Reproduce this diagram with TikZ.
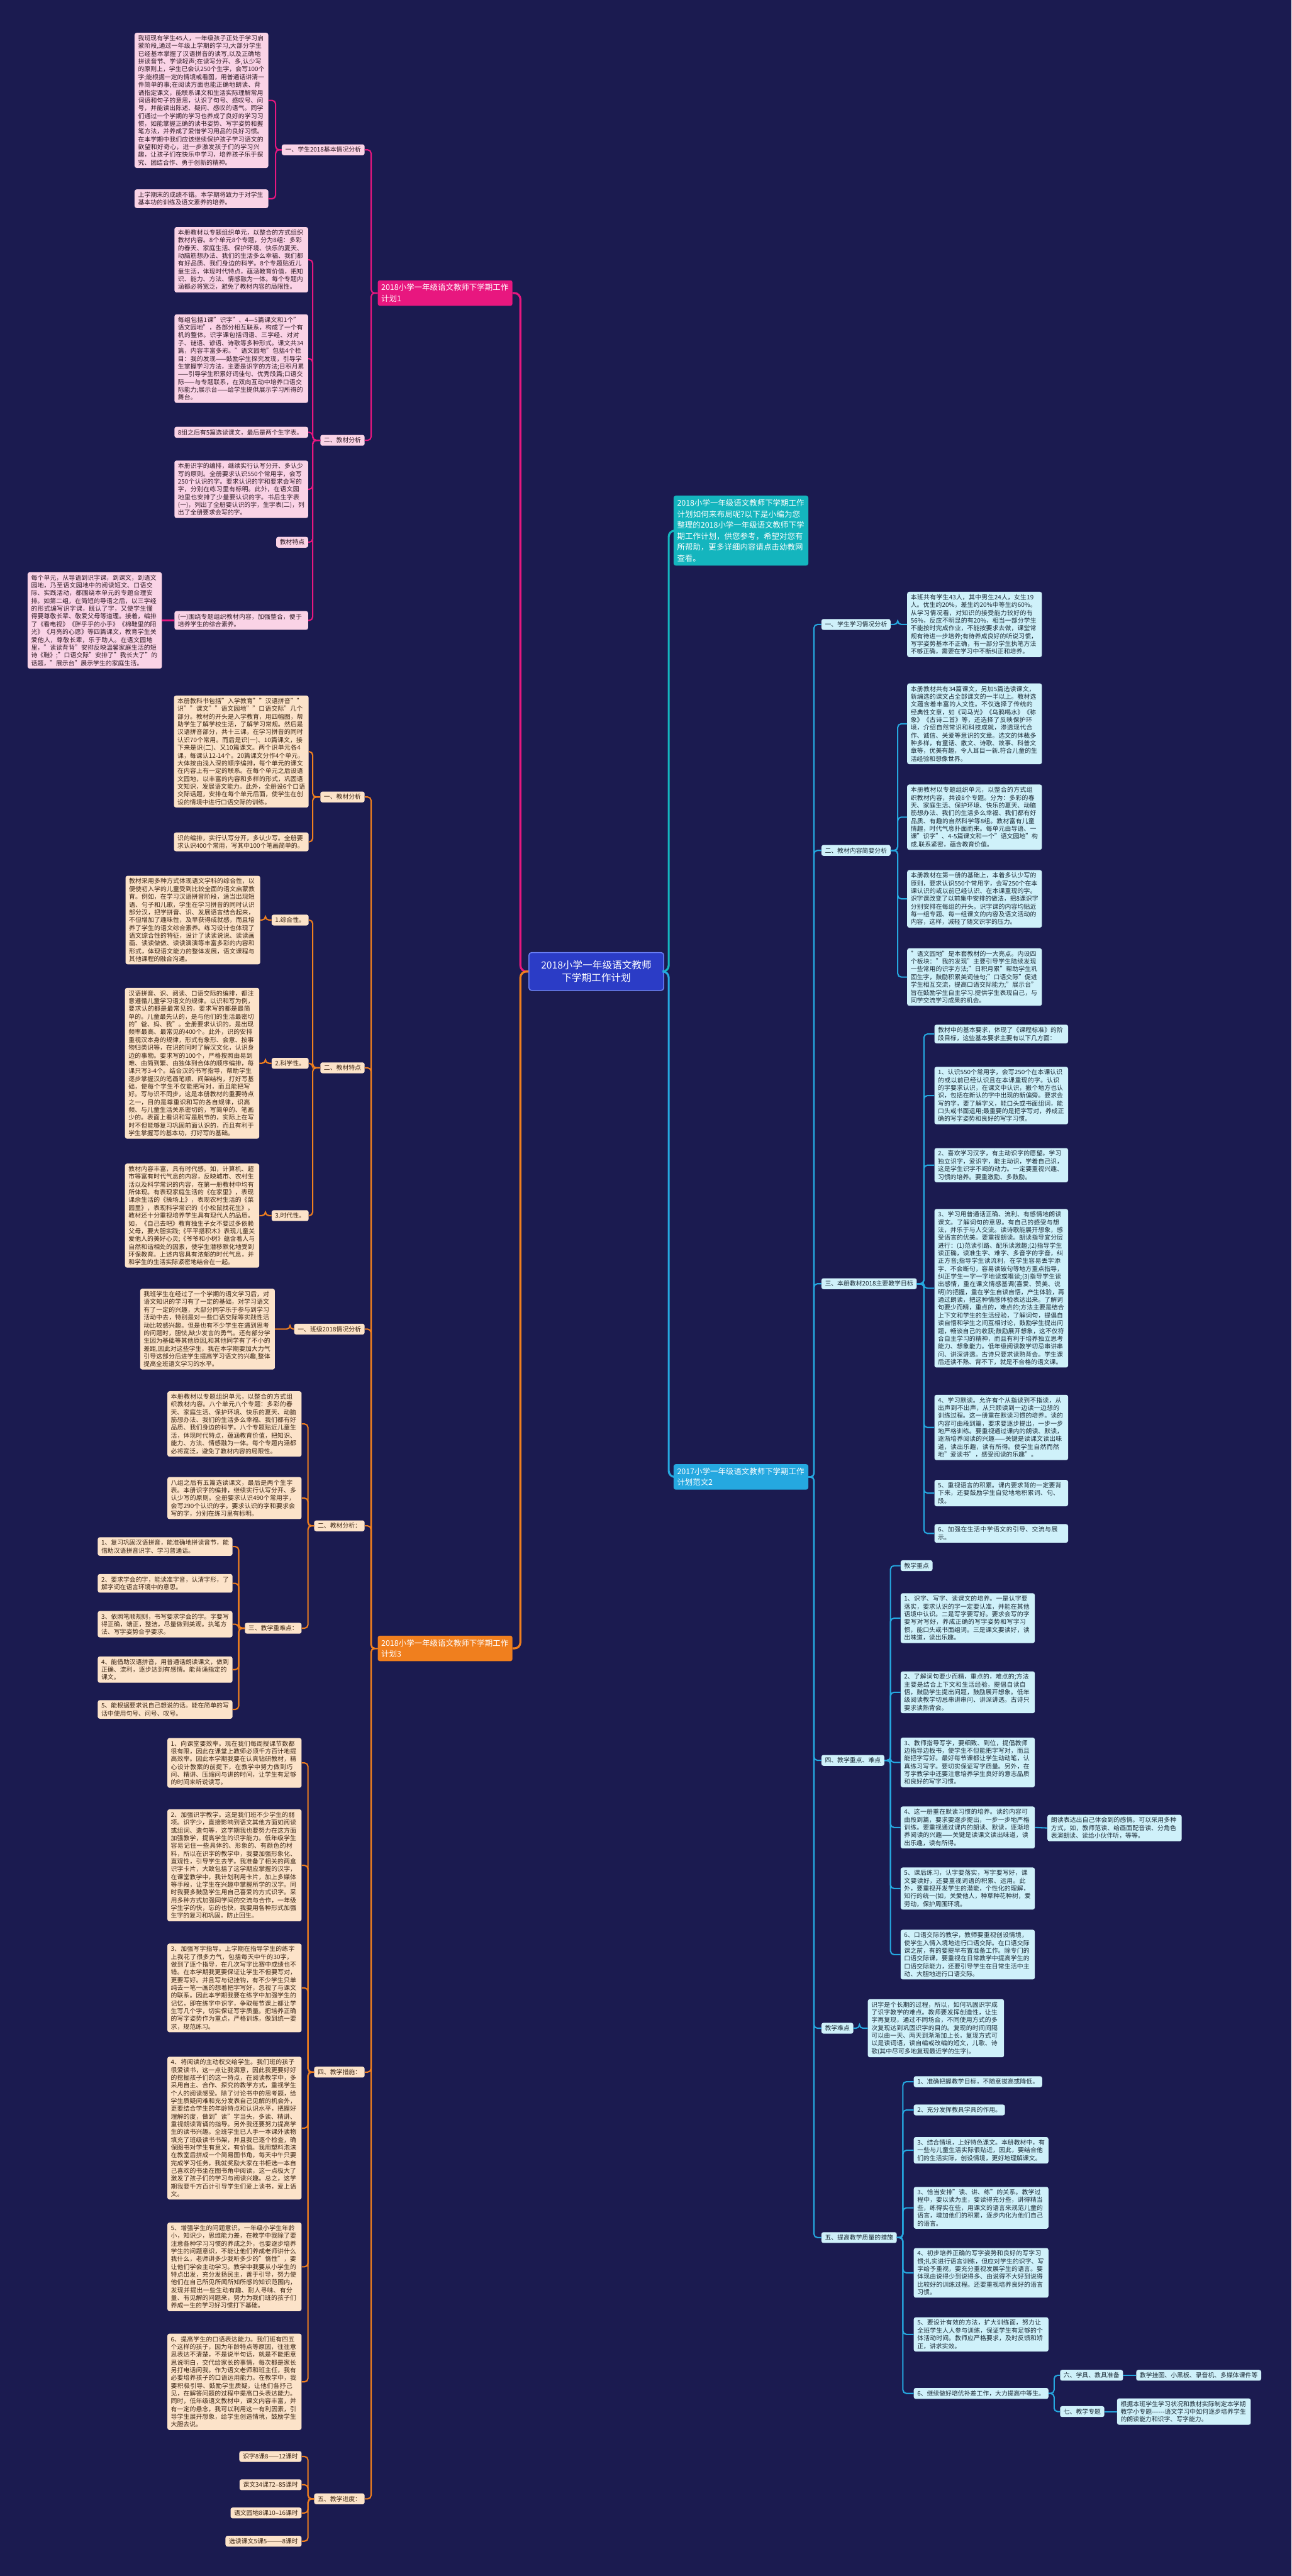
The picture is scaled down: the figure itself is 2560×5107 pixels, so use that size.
\documentclass[tikz,border=0pt]{standalone}
\usepackage{fontspec}
\setmainfont{Noto Sans CJK SC}
\XeTeXlinebreaklocale "zh"
\XeTeXlinebreakskip = 0pt plus 1pt
\definecolor{bg}{HTML}{1B1B50}
\definecolor{pinkline}{HTML}{E8177F}
\definecolor{pinkfill}{HTML}{FAD3E6}
\definecolor{pinktext}{HTML}{2E1A24}
\definecolor{orangeline}{HTML}{F07F1E}
\definecolor{orangefill}{HTML}{FCE3C9}
\definecolor{orangetext}{HTML}{3A2412}
\definecolor{cyanline}{HTML}{25A8E0}
\definecolor{cyanfill}{HTML}{CFF1FA}
\definecolor{cyantext}{HTML}{1A2A36}
\definecolor{tealline}{HTML}{14B5BE}
\definecolor{rootfill}{HTML}{2B3CC6}
\definecolor{rootdraw}{HTML}{6A80F5}
\newcommand\leafsz{\fontsize{12.3}{15.4}\selectfont}
\newcommand\mainsz{\fontsize{15.5}{22}\selectfont}
\newcommand\rootsz{\fontsize{19.5}{25}\selectfont}
\newcommand\Lc[4]{\draw[#1] (#2.west) -- ++(-#4,0) |- (#3.east);}
\newcommand\Rc[4]{\draw[#1] (#2.east) -- ++(#4,0) |- (#3.west);}
\tikzset{
  base/.style={rounded corners=4pt, inner xsep=7pt, inner ysep=5pt, align=left, font=\leafsz},
  pk/.style={base, fill=pinkfill, text=pinktext},
  og/.style={base, fill=orangefill, text=orangetext},
  cy/.style={base, fill=cyanfill, text=cyantext},
  tw/.style={text width=#1},
  mainnode/.style={rounded corners=4pt, inner xsep=7pt, inner ysep=7pt, align=left, font=\mainsz, text=white, text width=253pt},
  ln/.style={draw=#1, line width=2.6pt, rounded corners=7pt},
  mainln/.style={draw=#1, line width=4pt, rounded corners=12pt},
}
\begin{document}
\begin{tikzpicture}[x=1pt,y=-1pt]
\fill[bg] (0,0) rectangle (2560,5107);
\useasboundingbox (0,0) rectangle (2560,5107);

% root
\node[rounded corners=5pt, fill=rootfill, draw=rootdraw, line width=2pt, text=white, font=\rootsz, align=center, minimum width=267pt, minimum height=75pt] (root) at (1182,1926) {2018小学一年级语文教师\\下学期工作计划};

% main nodes
\node[mainnode, fill=pinkline, anchor=east] (L1) at (1016,581) {2018小学一年级语文教师下学期工作计划1};
\node[mainnode, fill=orangeline, anchor=east] (L3) at (1016,3268) {2018小学一年级语文教师下学期工作计划3};
\node[mainnode, fill=tealline, anchor=west] (R1) at (1335,1052) {2018小学一年级语文教师下学期工作计划如何来布局呢?以下是小编为您整理的2018小学一年级语文教师下学期工作计划，供您参考，希望对您有所帮助，更多详细内容请点击幼教网查看。};
\node[mainnode, fill=cyanline, anchor=west] (R2) at (1335,2928) {2017小学一年级语文教师下学期工作计划范文2};

\draw[mainln=pinkline] (root.west) -- ++(-16,0) |- (L1.east);
\draw[mainln=orangeline] (root.west) -- ++(-16,0) |- (L3.east);
\draw[mainln=tealline] (root.east) -- ++(9,0) |- (R1.west);
\draw[mainln=cyanline] (root.east) -- ++(9,0) |- (R2.west);

% ===== Left 1 =====
\node[pk, anchor=east] (L1a) at (723,297) {一、学生2018基本情况分析};
\node[pk, tw=251pt, anchor=east] (A) at (532,199) {我班现有学生45人，一年级孩子正处于学习启蒙阶段,通过一年级上学期的学习,大部分学生已经基本掌握了汉语拼音的读写,以及正确地拼读音节、学读轻声;在读写分开、多,认少写的原则上，学生已会认250个生字，会写100个字;能根据一定的情境或看图，用普通话讲清一件简单的事;在阅读方面也能正确地朗读、背诵指定课文，能联系课文和生活实际理解常用词语和句子的意思，认识了句号、感叹号、问号，并能读出陈述、疑问、感叹的语气。同学们通过一个学期的学习也养成了良好的学习习惯，如能掌握正确的读书姿势、写字姿势和握笔方法，并养成了爱惜学习用品的良好习惯。在本学期中我们应该继续保护孩子学习语文的欲望和好奇心，进一步激发孩子们的学习兴趣，让孩子们在快乐中学习，培养孩子乐于探究、团结合作、勇于创新的精神。};
\node[pk, tw=251pt, anchor=east] (B) at (532,394) {上学期末的成绩不错。本学期将致力于对学生基本功的训练及语文素养的培养。};
\node[pk, anchor=east] (L1b) at (723,873) {二、教材分析};
\node[pk, tw=251pt, anchor=east] (C1) at (611,515) {本册教材以专题组织单元，以整合的方式组织教材内容。8个单元8个专题，分为8组：多彩的春天、家庭生活、保护环境、快乐的夏天、动脑筋想办法、我们的生活多么幸福、我们都有好品质、我们身边的科学。8个专题贴近儿童生活，体现时代特点，蕴涵教育价值，把知识、能力、方法、情感融为一体。每个专题内涵都必将宽泛，避免了教材内容的局限性。};
\node[pk, tw=251pt, anchor=east] (C2) at (611,711) {每组包括1课"识字"、4—5篇课文和1个"语文园地"，各部分相互联系，构成了一个有机的整体。识字课包括词语、三字经、对对子、谜语、谚语、诗歌等多种形式。课文共34篇，内容丰富多彩。"语文园地"包括4个栏目：我的发现——鼓励学生探究发现，引导学生掌握学习方法，主要是识字的方法;日积月累——引导学生积累好词佳句、优秀段篇;口语交际——与专题联系，在双向互动中培养口语交际能力;展示台——给学生提供展示学习所得的舞台。};
\node[pk, tw=251pt, anchor=east] (C3) at (611,857) {8组之后有5篇选读课文，最后是两个生字表。};
\node[pk, tw=251pt, anchor=east] (C4) at (611,970) {本册识字的编排，继续实行认写分开、多认少写的原则。全册要求认识550个常用字，会写250个认识的字。要求认识的字和要求会写的字，分别在练习里有标明。此外，在语文园地里也安排了少量要认识的字。书后生字表(一)，列出了全册要认识的字，生字表(二)，列出了全册要求会写的字。};
\node[pk, anchor=east] (C5) at (611,1075) {教材特点};
\node[pk, tw=251pt, anchor=east] (F) at (611,1230) {(一)围绕专题组织教材内容，加强整合，便于培养学生的综合素养。};
\node[pk, tw=252pt, anchor=east] (G) at (321,1230) {每个单元，从导语到识字课，到课文，到语文园地，乃至语文园地中的阅读短文、口语交际、实践活动，都围绕本单元的专题合理安排。如第二组，在简短的导语之后，以三字经的形式编写识字课，既认了字，又使学生懂得要尊敬长辈、敬爱父母等道理。接着，编排了《看电视》《胖乎乎的小手》《棉鞋里的阳光》《月亮的心愿》等四篇课文，教育学生关爱他人，尊敬长辈，乐于助人。在语文园地里，"读读背背"安排反映温馨家庭生活的短诗《鞋》;"口语交际"安排了"我长大了"的话题，"展示台"展示学生的家庭生活。};

\Lc{ln=pinkline}{L1}{L1a}{13}
\Lc{ln=pinkline}{L1}{L1b}{13}
\Lc{ln=pinkline}{L1a}{A}{12}
\Lc{ln=pinkline}{L1a}{B}{12}
\foreach \c in {C1,C2,C3,C4,C5,F} {\Lc{ln=pinkline}{L1b}{\c}{15}}
\draw[ln=pinkline] (F.west) -- (G.east);

% ===== Left 3 =====
\node[og, anchor=east] (T1) at (723,1580) {一、教材分析};
\node[og, tw=253pt, anchor=east] (H) at (612,1490) {本册教科书包括"入学教育""汉语拼音""识""课文""语文园地""口语交际"几个部分。教材的开头是入学教育，用四幅图，帮助学生了解学校生活，了解学习常规。然后是汉语拼音部分，共十三课，在学习拼音的同时认识70个常用。而后是识(一)、10篇课文，接下来是识(二)、又10篇课文。两个识单元各4课，每课认12-14个。20篇课文分作4个单元，大体按由浅入深的顺序编排，每个单元的课文在内容上有一定的联系。在每个单元之后设语文园地，以丰富的内容和多样的形式，巩固语文知识，发展语文能力。此外，全册设6个口语交际话题，安排在每个单元后面，使学生在创设的情境中进行口语交际的训练。};
\node[og, tw=253pt, anchor=east] (I) at (612,1669) {识的编排，实行认写分开，多认少写。全册要求认识400个常用，写其中100个笔画简单的。};
\node[og, anchor=east] (T2) at (723,2117) {二、教材特点};
\node[og, anchor=east] (K1) at (612,1824) {1.综合性。};
\node[og, anchor=east] (K2) at (612,2108) {2.科学性。};
\node[og, anchor=east] (K3) at (612,2410) {3.时代性。};
\node[og, tw=253pt, anchor=east] (J) at (516,1824) {教材采用多种方式体现语文学科的综合性，以便使初入学的儿童受到比较全面的语文启蒙教育。例如，在学习汉语拼音阶段，适当出现短语、句子和儿歌，学生在学习拼音的同时认识部分汉，把学拼音、识、发展语言结合起来，不但增加了趣味性，及早获得成就感，而且培养了学生的语文综合素养。练习设计也体现了语文综合性的特征，设计了读读说说、读读画画、读读做做、读读演演等丰富多彩的内容和形式，体现语文能力的整体发展，语文课程与其他课程的融合沟通。};
\node[og, tw=252pt, anchor=east] (K) at (514,2108) {汉语拼音、识、阅读、口语交际的编排，都注意遵循儿童学习语文的规律。以识和写为例，要求认的都是最常见的，要求写的都是最简单的。儿童最先认的，是与他们的生活最密切的"爸、妈、我"。全册要求认识的，是出现频率最高、最常见的400个。此外，识的安排重视汉本身的规律，形式有象形、会意、按事物归类识等，在识的同时了解汉文化，认识身边的事物。要求写的100个，严格按照由易到难、由简到繁、由独体到合体的顺序编排，每课只写3-4个。结合汉的书写指导，帮助学生逐步掌握汉的笔画笔顺、间架结构，打好写基础，使每个学生不仅能把写对，而且能把写好。写与识不同步，这是本册教材的重要特点之一，目的是尊重识和写的各自规律，识高频、与儿童生活关系密切的，写简单的、笔画少的。表面上看识和写是脱节的，实际上在写时不但能够复习巩固前面认识的，而且有利于学生掌握写的基本功，打好写的基础。};
\node[og, tw=252pt, anchor=east] (L) at (514,2410) {教材内容丰富，具有时代感。如，计算机、超市等富有时代气息的内容，反映城市、农村生活以及科学常识的内容，在第一册教材中均有所体现。有表现家庭生活的《在家里》，表现课余生活的《操场上》，表现农村生活的《菜园里》，表现科学常识的《小松鼠找花生》。教材还十分重视培养学生具有现代人的品质。如，《自己去吧》教育独生子女不要过多依赖父母，要大胆实践;《平平搭积木》表现儿童关爱他人的美好心灵;《爷爷和小树》蕴含着人与自然和谐相处的因素，使学生潜移默化地受到环保教育。上述内容具有浓郁的时代气息，并和学生的生活实际紧密地结合在一起。};
\node[og, anchor=east] (T3) at (723,2635) {一、班级2018情况分析};
\node[og, tw=253pt, anchor=east] (M) at (545,2635) {我班学生在经过了一个学期的语文学习后，对语文知识的学习有了一定的基础，对学习语文有了一定的兴趣，大部分同学乐于参与到学习活动中去，特别是对一些口语交际等实践性活动比较感兴趣。但是也有不少学生在遇到思考的问题时，胆怯,缺少发言的勇气。还有部分学生因为基础等其他原因,和其他同学有了不小的差距,因此对这些学生，我在本学期要加大力气引导这部分后进学生提高学习语文的兴趣,整体提高全班语文学习的水平。};
\node[og, anchor=east] (T4) at (723,3025) {二、教材分析：};
\node[og, tw=252pt, anchor=east] (N) at (598,2823) {本册教材以专题组织单元，以整合的方式组织教材内容。八个单元八个专题：多彩的春天、家庭生活、保护环境、快乐的夏天、动脑筋想办法、我们的生活多么幸福、我们都有好品质、我们身边的科学。八个专题贴近儿童生活，体现时代特点，蕴涵教育价值，把知识、能力、方法、情感融为一体。每个专题内涵都必将宽泛，避免了教材内容的局限性。};
\node[og, tw=252pt, anchor=east] (O) at (598,2970) {八组之后有五篇选读课文，最后是两个生字表。本册识字的编排，继续实行认写分开、多认少写的原则。全册要求认识490个常用字，会写290个认识的字。要求认识的字和要求会写的字，分别在练习里有标明。};
\node[og, anchor=east] (T5) at (598,3228) {三、教学重难点：};
\node[og, tw=253pt, anchor=east] (P1) at (461,3066) {1、复习巩固汉语拼音，能准确地拼读音节，能借助汉语拼音识字、学习普通话。};
\node[og, tw=253pt, anchor=east] (P2) at (461,3139) {2、要求学会的字，能读准字音，认清字形，了解字词在语言环境中的意思。};
\node[og, tw=253pt, anchor=east] (P3) at (461,3220) {3、依照笔顺规则，书写要求学会的字。字要写得正确，端正，整洁，尽量做到美观。执笔方法、写字姿势合乎要求。};
\node[og, tw=253pt, anchor=east] (P4) at (461,3310) {4、能借助汉语拼音，用普通话朗读课文，做到正确、流利，逐步达到有感情。能背诵指定的课文。};
\node[og, tw=253pt, anchor=east] (P5) at (461,3389) {5、能根据要求说自己想说的话。能在简单的写话中使用句号、问号、叹号。};
\node[og, anchor=east] (T6) at (723,4108) {四、教学措施：};
\node[og, tw=252pt, anchor=east] (Q1) at (598,3495) {1、向课堂要效率。现在我们每周授课节数都很有限，因此在课堂上教师必须千方百计地提高效率。因此本学期我要在认真钻研教材，精心设计教案的前提下，在教学中努力做到巧问、精讲、压缩问与讲的时间，让学生有足够的时间来听说读写。};
\node[og, tw=252pt, anchor=east] (Q2) at (598,3698) {2、加强识字教学。这是我们班不少学生的弱项。识字少，直接影响到语文其他方面如阅读或组词、造句等，这学期我也要努力在这方面加强教学，提高学生的识字能力。低年级学生容易记住一些具体的、形象的、有颜色的材料，所以在识字的教学中，我要加强形象化、直观性，引导学生去学。我准备了相关的两盒识字卡片，大致包括了这学期应掌握的汉字，在课堂教学中，我计划利用卡片，加上多媒体等手段，让学生在兴趣中掌握所学的汉字。同时我要多鼓励学生用自己喜爱的方式识字。采用多种方式加强同学间的交流与合作，一年级学生学的快，忘的也快，我要用各种形式加强生字的复习和巩固，防止回生。};
\node[og, tw=252pt, anchor=east] (Q3) at (598,3941) {3、加强写字指导。上学期在指导学生的练字上我花了很多力气，包括每天中午的30字，做到了逐个指导，在几次写字比赛中成绩也不错。在本学期我更要保证让学生不但要写对，更要写好。并且写与记挂钩，有不少学生只单纯去一笔一画的想着把字写好，忽视了与课文的联系。因此本学期我要在练字中加强学生的记忆，即在练字中识字，争取每节课上都让学生写几个字，切实保证写字质量。把培养正确的写字姿势作为重点，严格训练，做到统一要求，规范练习。};
\node[og, tw=252pt, anchor=east] (Q4) at (598,4219) {4、将阅读的主动权交给学生。我们班的孩子很爱读书，这一点让我满意，因此我更要好好的挖掘孩子们的这一特点，在阅读教学中，多采用自主、合作、探究的教学方式，重视学生个人的阅读感受。除了讨论书中的思考题，给学生质疑问难和充分发表自己见解的机会外，更要结合学生的年龄特点和认识水平，把握好理解的度，做到"读"字当头，多读、精讲、重视朗读背诵的指导。另外我还要努力提高学生的读书兴趣。全班学生已人手一本课外读物填充了班级读书书架，并且我已逐个检查，确保图书对学生有意义，有价值。我用塑料泡沫在教室后拼成一个简易图书角，每天中午只要完成学习任务，我就奖励大家在书柜选一本自己喜欢的书坐在图书角中阅读，这一点极大了激发了孩子们的学习与阅读兴趣。总之，这学期我要千方百计引导学生们爱上读书，爱上语文。};
\node[og, tw=252pt, anchor=east] (Q5) at (598,4494) {5、增强学生的问题意识。一年级小学生年龄小，知识少，思维能力差，在教学中我除了要注意各种学习习惯的养成之外，也要逐步培养学生的问题意识，不能让他们养成老师讲什么我什么，老师讲多少我听多少的"惰性"，要让他们学会主动学习。教学中我要从小学生的特点出发，充分发扬民主，善于引导，努力使他们在自己所见所闻所知所感的知识范围内，发现并提出一些生动有趣、耐人寻味、有分量、有见解的问题来，努力为我们班的孩子们养成一生的学习好习惯打下基础。};
\node[og, tw=252pt, anchor=east] (Q6) at (598,4722) {6、提高学生的口语表达能力。我们班有四五个这样的孩子，因为年龄特点等原因，往往意思表达不清楚，不是说半句话，就是不能把意思说明白，交代给家长的事情，每次都是家长另打电话问我。作为语文老师和班主任，我有必要培养孩子的口语运用能力。在教学中，我要积极引导、鼓励学生质疑，让他们各抒己见，在解答问题的过程中提高口头表达能力。同时，低年级语文教材中，课文内容丰富，并有一定的悬念，我可以利用这一有利因素，引导学生展开想象，给学生创造情境，鼓励学生大胆去说。};
\node[og, anchor=east] (T7) at (723,4954) {五、教学进度：};
\node[og, anchor=east] (V1) at (598,4870) {识字8课8——12课时};
\node[og, anchor=east] (V2) at (598,4926) {课文34课72–85课时};
\node[og, anchor=east] (V3) at (598,4982) {语文园地8课10–16课时};
\node[og, anchor=east] (V4) at (598,5038) {选读课文5课5———8课时};

\foreach \t in {T1,T2,T3,T4,T6,T7} {\Lc{ln=orangeline}{L3}{\t}{13}}
\Lc{ln=orangeline}{T1}{H}{15}
\Lc{ln=orangeline}{T1}{I}{15}
\foreach \k in {K1,K2,K3} {\Lc{ln=orangeline}{T2}{\k}{15}}
\Lc{ln=orangeline}{K1}{J}{12}
\Lc{ln=orangeline}{K2}{K}{12}
\Lc{ln=orangeline}{K3}{L}{12}
\Lc{ln=orangeline}{T3}{M}{8}
\foreach \k in {N,O,T5} {\Lc{ln=orangeline}{T4}{\k}{12}}
\foreach \k in {P1,P2,P3,P4,P5} {\Lc{ln=orangeline}{T5}{\k}{12}}
\foreach \k in {Q1,Q2,Q3,Q4,Q5,Q6} {\Lc{ln=orangeline}{T6}{\k}{12}}
\foreach \k in {V1,V2,V3,V4} {\Lc{ln=orangeline}{T7}{\k}{12}}

% ===== Right 2 =====
\node[cy, anchor=west] (S0) at (1628,1238) {一、学生学习情况分析};
\node[cy, tw=253pt, anchor=west] (S) at (1798,1238) {本班共有学生43人，其中男生24人，女生19人。优生约20\%，差生约20\%中等生约60\%。从学习情况看，对知识的接受能力较好的有56\%，反应不明显的有20\%，相当一部分学生不能按时完成作业，不能按要求去做，课堂常规有待进一步培养;有待养成良好的听说习惯，写字姿势基本不正确，有一部分学生执笔方法不够正确，需要在学习中不断纠正和培养。};
\node[cy, anchor=west] (U0) at (1628,1686) {二、教材内容简要分析};
\node[cy, tw=253pt, anchor=west] (U1) at (1798,1435) {本册教材共有34篇课文，另加5篇选读课文，新编选的课文占全部课文的一半以上。教材选文蕴含着丰富的人文性。不仅选择了传统的经典性文章，如《司马光》《乌鸦喝水》《称象》《古诗二首》等，还选择了反映保护环境，介绍自然常识和科技成就，渗透现代合作、诚信、关爱等意识的文章。选文的体裁多种多样，有童话、散文、诗歌、故事、科普文章等，优美有趣，令人耳目一新.符合儿童的生活经验和想像世界。};
\node[cy, tw=253pt, anchor=west] (U2) at (1798,1620) {本册教材以专题组织单元，以整合的方式组织教材内容，共设8个专题。分为：多彩的春天、家庭生活、保护环境、快乐的夏天、动脑筋想办法、我们的生活多么幸福、我们都有好品质、有趣的自然科学等8组。教材富有儿童情趣，时代气息扑面而来。每单元由导语、一课"识字"、4-5篇课文和一个"语文园地"构成.联系紧密，蕴含教育价值。};
\node[cy, tw=253pt, anchor=west] (U3) at (1798,1782) {本册教材在第一册的基础上，本着多认少写的原则，要求认识550个常用字，会写250个在本课认识的或以前已经认识、在本课重现的字。识字课改变了以前集中安排的做法，把8课识字分别安排在每组的开头。识字课的内容均贴近每一组专题、每一组课文的内容及语文活动的内容，这样，减轻了随文识字的压力。};
\node[cy, tw=253pt, anchor=west] (U4) at (1798,1937) {"语文园地"是本套教材的一大亮点。内设四个板块："我的发现"主要引导学生陆续发现一些常用的识字方法;"日积月累"帮助学生巩固生字，鼓励积累美词佳句;"口语交际"促进学生相互交流，提高口语交际能力;"展示台"旨在鼓励学生自主学习.提供学生表现自己，与同学交流学习成果的机会。};
\node[cy, anchor=west] (Y0) at (1628,2545) {三、本册教材2018主要教学目标};
\node[cy, tw=251pt, anchor=west] (X) at (1852,2050) {教材中的基本要求，体现了《课程标准》的阶段目标，这些基本要求主要有以下几方面：};
\node[cy, tw=251pt, anchor=west] (Y1) at (1852,2172) {1、认识550个常用字，会写250个在本课认识的或以前已经认识且在本课重现的字。认识的字要求认识，在课文中认识，搬个地方也认识，包括在新认的字中出现的新偏旁。要求会写的字，要了解字义，能口头或书面组词，能口头或书面运用;最重要的是把字写对，养成正确的写字姿势和良好的写字习惯。};
\node[cy, tw=251pt, anchor=west] (Y2) at (1852,2310) {2、喜欢学习汉字，有主动识字的愿望。学习独立识字，爱识字，能主动识，学着自己识，这是学生识字不竭的动力。一定要重视兴趣、习惯的培养。要重激励、多鼓励。};
\node[cy, tw=251pt, anchor=west] (Y3) at (1852,2554) {3、学习用普通话正确、流利、有感情地朗读课文。了解词句的意思。有自己的感受与想法，并乐于与人交流。读诗歌能展开想象，感受语言的优美。要重视朗读。朗读指导宜分层进行：(1)范读引路、配乐读激趣;(2)指导学生读正确，读准生字、难字、多音字的字音，纠正方音;指导学生读流利，在学生容易丢字添字、不会断句，容易读破句等地方重点指导，纠正学生一字一字地读或唱读;(3)指导学生读出感情，重在课文情感基调(喜爱、赞美、说明)的把握，重在学生自读自悟，产生体验，再通过朗读，把这种情感体验表达出来。了解词句要少而精，重点的，难点的;方法主要是结合上下文和学生的生活经验，了解词句，提倡自读自悟和学生之间互相讨论，鼓励学生提出问题，畅谈自己的收获;鼓励展开想象，这不仅符合自主学习的精神，而且有利于培养独立思考能力、想象能力。低年级阅读教学切忌串讲串问、讲深讲透。古诗只要求读熟背会。学生课后还读不熟、背不下，就是不合格的语文课。};
\node[cy, tw=251pt, anchor=west] (Y4) at (1852,2830) {4、学习默读。允许有个从指读到不指读，从出声到不出声，从只顾读到一边读一边想的训练过程。这一册重在默读习惯的培养。读的内容可由段到篇，要求要逐步提出，一步一步地严格训练。要重视通过课内的朗读、默读，逐渐培养阅读的兴趣——关键是读课文读出味道，读出乐趣，读有所得。使学生自然而然地"爱读书"，感受阅读的乐趣"。};
\node[cy, tw=251pt, anchor=west] (Y5) at (1852,2960) {5、重视语言的积累。课内要求背的一定要背下来，还要鼓励学生自觉地地积累词、句、段。};
\node[cy, tw=251pt, anchor=west] (Y6) at (1852,3040) {6、加强在生活中学语文的引导、交流与展示。};
\node[cy, anchor=west] (Z0) at (1628,3490) {四、教学重点、难点};
\node[cy, anchor=west] (Zh) at (1785,3104) {教学重点};
\node[cy, tw=252pt, anchor=west] (Z1) at (1785,3208) {1、识字、写字、读课文的培养。一是认字要落实，要求认识的字一定要认准，并能在其他语境中认识。二是写字要写好。要求会写的字要写对写好，养成正确的写字姿势和写字习惯，能口头或书面组词。三是课文要读好，读出味道，读出乐趣。};
\node[cy, tw=252pt, anchor=west] (Z2) at (1785,3355) {2、了解词句要少而精，重点的，难点的;方法主要是结合上下文和生活经验，提倡自读自悟，鼓励学生提出问题，鼓励展开想象。低年级阅读教学切忌串讲串问、讲深讲透。古诗只要求读熟背会。};
\node[cy, tw=252pt, anchor=west] (Z3) at (1785,3494) {3、教师指导写字，要细致、到位，提倡教师边指导边板书，使学生不但能把字写对，而且能把字写好。最好每节课都让学生动动笔，认真练习写字。要切实保证写字质量。另外，在写字教学中还要注意培养学生良好的意志品质和良好的写字习惯。};
\node[cy, tw=252pt, anchor=west] (Z4) at (1785,3623) {4、这一册重在默读习惯的培养。读的内容可由段到篇，要求要逐步提出，一步一步地严格训练。要重视通过课内的朗读、默读，逐渐培养阅读的兴趣——关键是读课文读出味道，读出乐趣，读有所得。};
\node[cy, tw=252pt, anchor=west] (Z4a) at (2076,3624) {朗读表达出自己体会到的感情。可以采用多种方式，如，教师范读、给画面配音读、分角色表演朗读、读给小伙伴听，等等。};
\node[cy, tw=252pt, anchor=west] (Z5) at (1785,3744) {5、课后练习，认字要落实，写字要写好，课文要读好，还要重视词语的积累、运用。此外，要重视开发学生的潜能，个性化的理解，知行的统一(如，关爱他人，种草种花种树，爱劳动，保护周围环境。};
\node[cy, tw=252pt, anchor=west] (Z6) at (1785,3875) {6、口语交际的教学，教师要重视创设情境，使学生入情入境地进行口语交际。在口语交际课之前，有的要提早布置准备工作。除专门的口语交际课，要重视在日常教学中提高学生的口语交际能力，还要引导学生在日常生活中主动、大胆地进行口语交际。};
\node[cy, anchor=west] (D0) at (1628,4021) {教学难点};
\node[cy, tw=256pt, anchor=west] (D1) at (1720,4021) {识字是个长期的过程，所以，如何巩固识字成了识字教学的难点。教师要发挥创造性，让生字再复现，通过不同场合，不同使用方式的多次复现达到巩固识字的目的。复现的时间间隔可以由一天、两天到渐渐加上长，复现方式可以是读词语，读自编或改编的短文，儿歌、诗歌(其中尽可多地复现最近学的生字)。};
\node[cy, anchor=west] (W0) at (1628,4436) {五、提高教学质量的措施};
\node[cy, anchor=west] (W1) at (1811,4127) {1、准确把握教学目标，不随意拔高或降低。};
\node[cy, anchor=west] (W2) at (1811,4183) {2、充分发挥教具学具的作用。};
\node[cy, tw=253pt, anchor=west] (W3) at (1811,4263) {3、结合情境，上好特色课文。本册教材中，有一些与儿童生活实际很贴近，因此，要结合他们的生活实际，创设情境，更好地理解课文。};
\node[cy, tw=253pt, anchor=west] (W4) at (1811,4377) {3、恰当安排"读、讲、练"的关系。教学过程中，要以读为主，要读得充分些，讲得精当些，练得实在些，用课文的语言来规范儿童的语言，增加他们的积累，逐步内化为他们自己的语言。};
\node[cy, tw=253pt, anchor=west] (W5) at (1811,4506) {4、初步培养正确的写字姿势和良好的写字习惯;扎实进行语言训练，但应对学生的识字、写字给予重视，要充分重视发展学生的语言。要体现由说得少到说得多、由说得不大好到说得比较好的训练过程。还要重视培养良好的语言习惯。};
\node[cy, tw=253pt, anchor=west] (W6) at (1811,4628) {5、要设计有效的方法，扩大训练面，努力让全班学生人人参与训练，保证学生有足够的个体活动时间。教师应严格要求，及时反馈和矫正，讲求实效。};
\node[cy, tw=253pt, anchor=west] (W7) at (1811,4745) {6、继续做好培优补差工作，大力提高中等生。};
\node[cy, anchor=west] (E1) at (2101,4709) {六、学具、教具准备};
\node[cy, anchor=west] (E1a) at (2252,4709) {教学挂图、小黑板、录音机、多媒体课件等};
\node[cy, anchor=west] (E2) at (2101,4781) {七、教学专题};
\node[cy, tw=251pt, anchor=west] (E2a) at (2214,4781) {根据本班学生学习状况和教材实际制定本学期教学小专题-{}-{}-{}-{}-{}-语文学习中如何逐步培养学生的朗读能力和识字、写字能力。};

\foreach \t in {S0,U0,Y0,Z0,D0,W0} {\Rc{ln=cyanline}{R2}{\t}{11}}
\Rc{ln=cyanline}{S0}{S}{14}
\foreach \k in {U1,U2,U3,U4} {\Rc{ln=cyanline}{U0}{\k}{14}}
\foreach \k in {X,Y1,Y2,Y3,Y4,Y5,Y6} {\Rc{ln=cyanline}{Y0}{\k}{14}}
\foreach \k in {Zh,Z1,Z2,Z3,Z4,Z5,Z6} {\Rc{ln=cyanline}{Z0}{\k}{12}}
\draw[ln=cyanline] (Z4.east) -- (Z4a.west);
\Rc{ln=cyanline}{D0}{D1}{12}
\foreach \k in {W1,W2,W3,W4,W5,W6,W7} {\Rc{ln=cyanline}{W0}{\k}{12}}
\Rc{ln=cyanline}{W7}{E1}{11}
\Rc{ln=cyanline}{W7}{E2}{11}
\draw[ln=cyanline] (E1.east) -- (E1a.west);
\draw[ln=cyanline] (E2.east) -- (E2a.west);
\end{tikzpicture}
\end{document}
